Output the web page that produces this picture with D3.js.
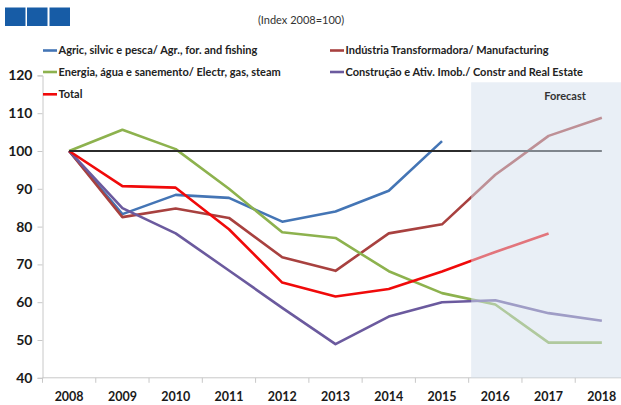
<!DOCTYPE html>
<html>
<head>
<meta charset="utf-8">
<script src="https://cdn.jsdelivr.net/npm/d3@7"></script>
<style>
  html, body { margin: 0; padding: 0; background: #fff; }
  svg { display: block; font-family: Lato, "Liberation Sans", sans-serif; }
</style>
</head>
<body>
<svg id="chart" width="621" height="405"></svg>
<script>
// Gross value added by sector, index 2008 = 100 (2016-2018 forecast)
const years = ["2008","2009","2010","2011","2012","2013","2014","2015","2016","2017","2018"];
const agric  = [100, 83.3, 88.4, 87.6, 81.3, 84.0, 89.5, 102.6, null, null, null];
const manuf  = [100, 82.5, 84.8, 82.3, 71.9, 68.3, 78.2, 80.6, 93.7, 104.0, 108.8];
const energy = [100, 105.6, 100.5, 90.0, 78.5, 77.0, 68.2, 62.4, 59.4, 49.3, 49.3];
const constr = [100, 84.9, 78.2, 68.4, 58.5, 48.9, 56.2, 60.0, 60.5, 57.1, 55.1];
const total  = [100, 90.7, 90.3, 79.3, 65.2, 61.5, 63.5, 68.1, 73.3, 78.2, null];
const yTicks = [40, 50, 60, 70, 80, 90, 100, 110, 120];
const forecastStart = "2016";
const baseline = 100;

const seriesNames = [
  "Agric, silvic e pesca/ Agr., for. and fishing",
  "Indústria Transformadora/ Manufacturing",
  "Energia, água e sanemento/ Electr, gas, steam",
  "Construção e Ativ. Imob./ Constr and Real Estate",
  "Total"
];
const seriesValues = [agric, manuf, energy, constr, total];
const seriesColors = ["#4475B5", "#A8413F", "#8DB24E", "#6B5A9E", "#F00A0A"];

const svg = d3.select("#chart");

// plot area (extends past the right edge, as the last column is cut)
const x = d3.scaleBand().domain(years).range([42.5, 628.5]).padding(0);
const y = d3.scaleLinear().domain([40, 120]).range([377.8, 75.4]);
const cx = d => x(d) + x.bandwidth() / 2;

// header: logo blocks and index note
const logo = svg.append("g");
[5, 27, 49.5].forEach(lx => {
  logo.append("rect").attr("x", lx).attr("y", 7.5).attr("width", 20.5).attr("height", 18.5)
    .attr("fill", "#175CA6");
});
svg.append("text").attr("x", 301).attr("y", 24).attr("text-anchor", "middle")
  .attr("font-size", 11).attr("fill", "#333").text("(Index 2008=100)");

// axes
const gy = svg.append("g").attr("transform", `translate(${x.range()[0]},0)`)
  .call(d3.axisLeft(y).tickValues(yTicks).tickSize(5).tickPadding(5));
gy.select(".domain").attr("stroke", "#C8C8C8");
gy.selectAll(".tick line").attr("stroke", "#C8C8C8");
gy.selectAll(".tick text").attr("font-size", 14).attr("font-weight", 700)
  .attr("fill", "#1a1a1a").attr("font-family", "Lato, sans-serif");

const gx = svg.append("g").attr("transform", `translate(0,${y(40)})`);
gx.append("line").attr("x1", x.range()[0]).attr("x2", x.range()[1])
  .attr("stroke", "#C8C8C8");
gx.selectAll(".sep").data(years.concat(["end"])).join("line")
  .attr("x1", (d, i) => x.range()[0] + i * x.bandwidth())
  .attr("x2", (d, i) => x.range()[0] + i * x.bandwidth())
  .attr("y1", 0).attr("y2", 5).attr("stroke", "#C8C8C8");
gx.selectAll(".lbl").data(years).join("text")
  .attr("x", d => cx(d)).attr("y", 23).attr("text-anchor", "middle")
  .attr("font-size", 12.5).attr("font-weight", 700).attr("fill", "#1a1a1a")
  .text(d => d);

// series lines
const line = d3.line()
  .defined(d => d.v != null)
  .x(d => cx(d.year))
  .y(d => y(d.v));

seriesValues.forEach((vals, i) => {
  const pts = years.map((yr, j) => ({ year: yr, v: vals[j] }));
  svg.append("path").datum(pts)
    .attr("d", line)
    .attr("fill", "none")
    .attr("stroke", seriesColors[i])
    .attr("stroke-width", 2.6)
    .attr("stroke-linejoin", "round");
});

// reference line at index 100
svg.append("line")
  .attr("x1", cx(years[0])).attr("x2", cx(years[years.length - 1]))
  .attr("y1", y(baseline)).attr("y2", y(baseline))
  .attr("stroke", "#2b2b2b").attr("stroke-width", 2);

// forecast shading laid over the projected years
svg.append("rect")
  .attr("x", x(forecastStart) + 2.5).attr("y", 82.3)
  .attr("width", 200).attr("height", y(40) - 82.3)
  .attr("fill", "#D3E0EE").attr("fill-opacity", 0.5);
svg.append("text").attr("x", 565).attr("y", 100).attr("text-anchor", "middle")
  .attr("font-size", 11).attr("font-weight", 700).attr("fill", "#333").text("Forecast");

// legend in two columns
const legendPos = [
  [43, 50.5], [330, 50.5],
  [43, 72], [330, 72],
  [43, 94.3]
];
seriesNames.forEach((name, i) => {
  const [lx, ly] = legendPos[i];
  const g = svg.append("g").attr("transform", `translate(${lx},${ly})`);
  g.append("line").attr("x1", 0).attr("x2", 14).attr("y1", 0).attr("y2", 0)
    .attr("stroke", seriesColors[i]).attr("stroke-width", 2.6);
  g.append("text").attr("x", 15.5).attr("y", 3.9)
    .attr("font-size", 11).attr("font-weight", 700).attr("fill", "#222")
    .text(name);
});
</script>
</body>
</html>
